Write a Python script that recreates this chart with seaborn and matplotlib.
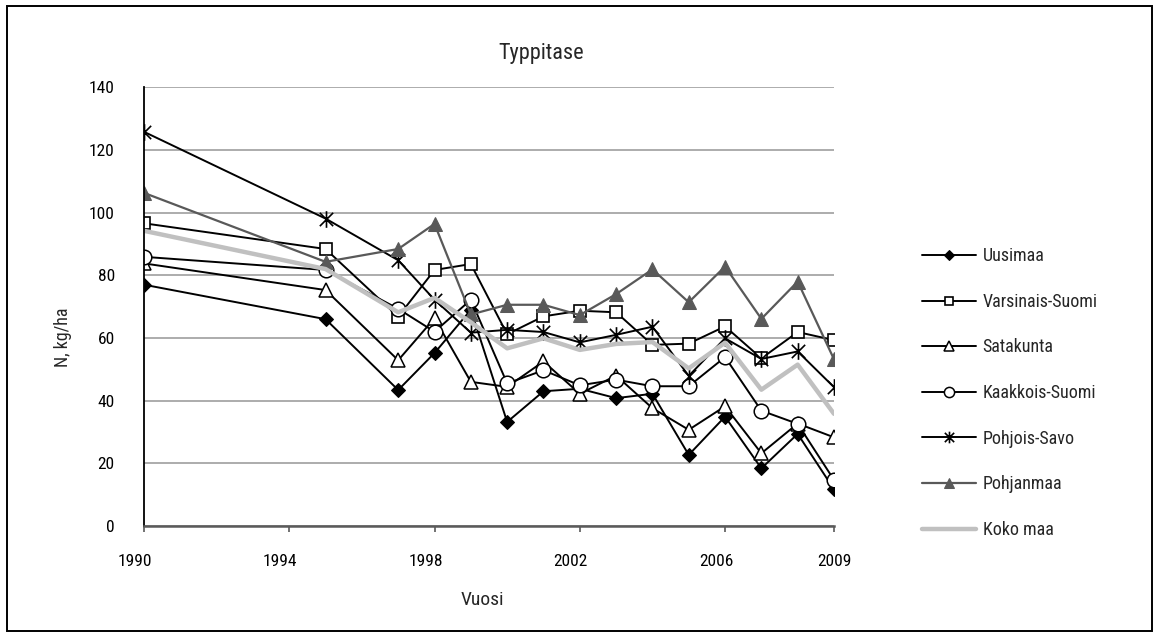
import matplotlib
matplotlib.use("Agg")
import matplotlib.pyplot as plt
from matplotlib import font_manager
from matplotlib.path import Path
from matplotlib.patches import Rectangle
from matplotlib.transforms import ScaledTranslation
import seaborn as sns

# Nitrogen balance (kg/ha) by region
years = [1990, 1995, 1997, 1998, 1999, 2000, 2001, 2002, 2003, 2004, 2005, 2006, 2007, 2008, 2009]
uusimaa = [77.0, 66.0, 43.4, 55.2, 69.0, 33.2, 43.0, 43.8, 40.8, 42.2, 22.7, 34.9, 18.4, 29.4, 11.7]
varsinais_suomi = [96.6, 88.4, 66.8, 81.7, 83.6, 61.2, 66.9, 68.7, 68.2, 57.8, 58.2, 63.7, 53.5, 61.9, 59.3]
satakunta = [83.8, 75.3, 52.9, 66.3, 46.0, 44.4, 52.5, 42.2, 48.0, 37.6, 30.7, 38.2, 23.2, 32.7, 28.3]
kaakkois_suomi = [85.9, 81.7, 69.3, 62.0, 72.2, 45.5, 49.7, 44.9, 46.7, 44.6, 44.6, 53.9, 36.8, 32.6, 14.7]
pohjois_savo = [125.8, 98.1, 84.8, 72.2, 61.7, 62.6, 61.9, 58.6, 61.0, 63.6, 47.9, 59.9, 53.3, 55.7, 44.3]
pohjanmaa = [106.3, 84.3, 88.4, 96.4, 67.5, 70.6, 70.6, 67.3, 74.0, 81.9, 71.4, 82.8, 66.1, 78.0, 53.2]
koko_maa = [94.2, 82.0, 68.2, 72.8, 65.0, 56.7, 59.9, 56.2, 58.1, 58.7, 50.3, 58.5, 43.5, 51.5, 35.8]

x_ticks = [1990, 1994, 1998, 2002, 2006, 2009]
y_ticks = [0, 20, 40, 60, 80, 100, 120, 140]

sns.set_theme(style="white")

installed = {f.name for f in font_manager.fontManager.ttflist}
family = next((f for f in ["Liberation Sans Narrow", "Roboto Condensed", "Liberation Sans"]
               if f in installed), "DejaVu Sans")
plt.rcParams["font.family"] = [family, "DejaVu Sans"]

# Star marker: an X crossed by a vertical stroke
star = Path([(-1, -1), (1, 1), (-1, 1), (1, -1), (0, -1.25), (0, 1.25)],
            [Path.MOVETO, Path.LINETO, Path.MOVETO, Path.LINETO, Path.MOVETO, Path.LINETO])

W, H = 1160, 637
fig = plt.figure(figsize=(W / 100, H / 100), dpi=100)
ax = fig.add_axes([144 / W, 1 - 526 / H, (834 - 144) / W, (526 - 87.3) / H])

series = [
    ("Uusimaa", uusimaa, dict(color="black", lw=1.4, marker="D", ms=7,
                              mfc="black", mec="black")),
    ("Varsinais-Suomi", varsinais_suomi, dict(color="black", lw=1.4, marker="s", ms=8,
                                              mfc="white", mec="black", mew=1.2)),
    ("Satakunta", satakunta, dict(color="black", lw=1.4, marker="^", ms=10.5,
                                  mfc="white", mec="black", mew=1.1)),
    ("Kaakkois-Suomi", kaakkois_suomi, dict(color="black", lw=1.4, marker="o", ms=10.5,
                                            mfc="white", mec="black", mew=1.1)),
    ("Pohjois-Savo", pohjois_savo, dict(color="black", lw=1.4, marker=star, ms=12,
                                        mec="black", mew=1.2)),
    ("Pohjanmaa", pohjanmaa, dict(color="#595959", lw=1.6, marker="^", ms=9.5,
                                  mfc="#595959", mec="#595959")),
    ("Koko maa", koko_maa, dict(color="#c0c0c0", lw=3.2)),
]

for name, vals, style in series:
    sns.lineplot(x=years, y=vals, ax=ax, label=name, legend=False, **style)

ax.set_xlim(1990, 2009)
ax.set_ylim(0, 140)
ax.set_xticks(x_ticks)
ax.set_yticks(y_ticks)
ax.yaxis.grid(True, color="#a6a6a6", lw=1.3)
ax.xaxis.grid(False)
ax.set_axisbelow(True)
for side in ["top", "right"]:
    ax.spines[side].set_visible(False)
ax.spines["left"].set_color("black")
ax.spines["left"].set_linewidth(1.3)
ax.spines["bottom"].set_color("#5a5a5a")
ax.spines["bottom"].set_linewidth(1.8)
ax.tick_params(axis="y", length=0, pad=21, labelsize=12.5, labelcolor="black")
ax.tick_params(axis="x", length=4, width=1.2, color="#5a5a5a", direction="out",
               pad=16, labelsize=12.5, labelcolor="black", bottom=True)
ax.set_xlabel("")
ax.set_ylabel("")

shift = ScaledTranslation(-9 / 100, 0, fig.dpi_scale_trans)
for lab in ax.get_xticklabels()[:-1]:
    lab.set_transform(lab.get_transform() + shift)

fig.text(541 / W, 1 - 53 / H, "Typpitase", ha="center", va="center", fontsize=16)
fig.text(482 / W, 1 - 600 / H, "Vuosi", ha="center", va="center", fontsize=14)
fig.text(63 / W, 1 - 337 / H, "N, kg/ha", ha="center", va="center",
         rotation=90, fontsize=13)

handles, labels = ax.get_legend_handles_labels()
fig.legend(handles, labels, loc="upper left", bbox_to_anchor=(906 / W, 1 - 231 / H),
           frameon=False, fontsize=13, handlelength=3.0, handletextpad=0.35,
           labelspacing=1.53, markerscale=0.7)

fig.add_artist(Rectangle((7 / W, 6 / H), (1152 - 7) / W, (631 - 6) / H,
                         transform=fig.transFigure, fill=False, ec="black", lw=1.4))

fig.savefig("out.png", dpi=100)
